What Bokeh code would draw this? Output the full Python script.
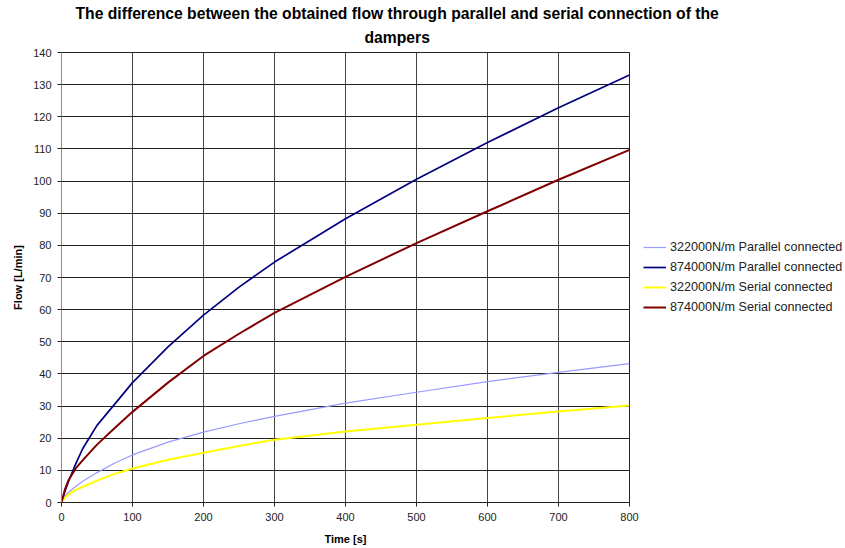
from bokeh.plotting import figure
from bokeh.models import Legend, LegendItem, Range1d, FixedTicker, Title
from bokeh.embed import file_html
from bokeh.resources import INLINE

# Time [s]
time_s = [0, 5, 10, 20, 30, 50, 75, 100, 150, 200, 250, 300, 400, 500, 600, 700, 800]
# Flow [L/min]
par_322 = [0, 2.0, 3.2, 5.0, 6.6, 9.3, 12.3, 14.8, 18.8, 21.9, 24.5, 26.8, 30.9, 34.3, 37.6, 40.5, 43.2]
par_874 = [0, 3.6, 6.6, 12.0, 16.8, 24.0, 30.6, 37.3, 48.4, 58.3, 67.0, 74.8, 88.3, 100.6, 112.0, 122.8, 133.0]
ser_322 = [0, 1.5, 2.5, 3.9, 4.9, 6.8, 8.9, 10.6, 13.3, 15.5, 17.6, 19.5, 22.1, 24.2, 26.3, 28.3, 30.2]
ser_874 = [0, 4.2, 7.0, 10.6, 13.2, 18.0, 23.2, 28.2, 37.3, 45.6, 52.5, 59.0, 70.2, 80.7, 90.6, 100.4, 109.7]

series_names = ["322000N/m Parallel connected", "874000N/m Parallel connected",
                "322000N/m Serial connected", "874000N/m Serial connected"]
title_line1 = "The difference between the obtained flow through parallel and serial connection of the"
title_line2 = "dampers"
x_ticks = list(range(0, 801, 100))
y_ticks = list(range(0, 141, 10))

FONT = "Liberation Sans"

p = figure(frame_width=568, frame_height=450, output_backend="svg", toolbar_location=None,
           x_range=Range1d(0, 800), y_range=Range1d(0, 140), title=None,
           min_border_left=61, min_border_right=216, min_border_top=52, min_border_bottom=45)

t2 = Title(text=title_line2, align="left", offset=303, text_font=FONT,
           text_font_size="15.7px", text_font_style="bold", standoff=14, text_color="#000000")
t1 = Title(text=title_line1, align="left", offset=14, text_font=FONT,
           text_font_size="15.7px", text_font_style="bold", standoff=-5, text_color="#000000")
p.add_layout(t2, "above")
p.add_layout(t1, "above")

p.background_fill_color = "white"
p.border_fill_color = "white"
p.outline_line_color = "#222222"

# axes
p.xaxis.ticker = FixedTicker(ticks=x_ticks)
p.yaxis.ticker = FixedTicker(ticks=y_ticks)
for ax in (p.xaxis[0], p.yaxis[0]):
    ax.major_label_text_font = FONT
    ax.major_label_text_font_size = "11px"
    ax.major_label_text_color = "#222222"
    ax.axis_label_text_font = FONT
    ax.axis_label_text_font_size = "11px"
    ax.axis_label_text_font_style = "bold"
    ax.axis_label_text_color = "#000000"
    ax.major_tick_in = 0
    ax.major_tick_out = 4
    ax.minor_tick_line_color = None
    ax.major_label_standoff = 6
p.xaxis.axis_label = "Time [s]"
p.yaxis.axis_label = "Flow [L/min]"
p.xaxis.axis_label_standoff = 9
p.yaxis.axis_label_standoff = 6
p.xaxis.axis_line_color = "#222222"
p.xaxis.major_tick_line_color = "#222222"
p.yaxis.axis_line_color = "#8c8c8c"
p.yaxis.major_tick_line_color = "#222222"

# grids
p.xgrid.grid_line_color = "#444444"
p.ygrid.grid_line_color = "#222222"

r1 = p.line(time_s, par_322, line_color="#9999ff", line_width=1.2)
r2 = p.line(time_s, par_874, line_color="#000080", line_width=1.7)
r3 = p.line(time_s, ser_322, line_color="#ffff00", line_width=2)
r4 = p.line(time_s, ser_874, line_color="#800000", line_width=2)

legend = Legend(items=[LegendItem(label=series_names[0], renderers=[r1]),
                       LegendItem(label=series_names[1], renderers=[r2]),
                       LegendItem(label=series_names[2], renderers=[r3]),
                       LegendItem(label=series_names[3], renderers=[r4])],
                location="center_left", border_line_color=None, background_fill_alpha=0,
                margin=14, padding=2, spacing=0, glyph_width=23, glyph_height=20,
                label_height=20, label_standoff=4, label_text_font=FONT,
                label_text_font_size="12.6px", label_text_color="#222222")
p.add_layout(legend, "right")

open("out.html", "w").write(file_html(p, INLINE))
